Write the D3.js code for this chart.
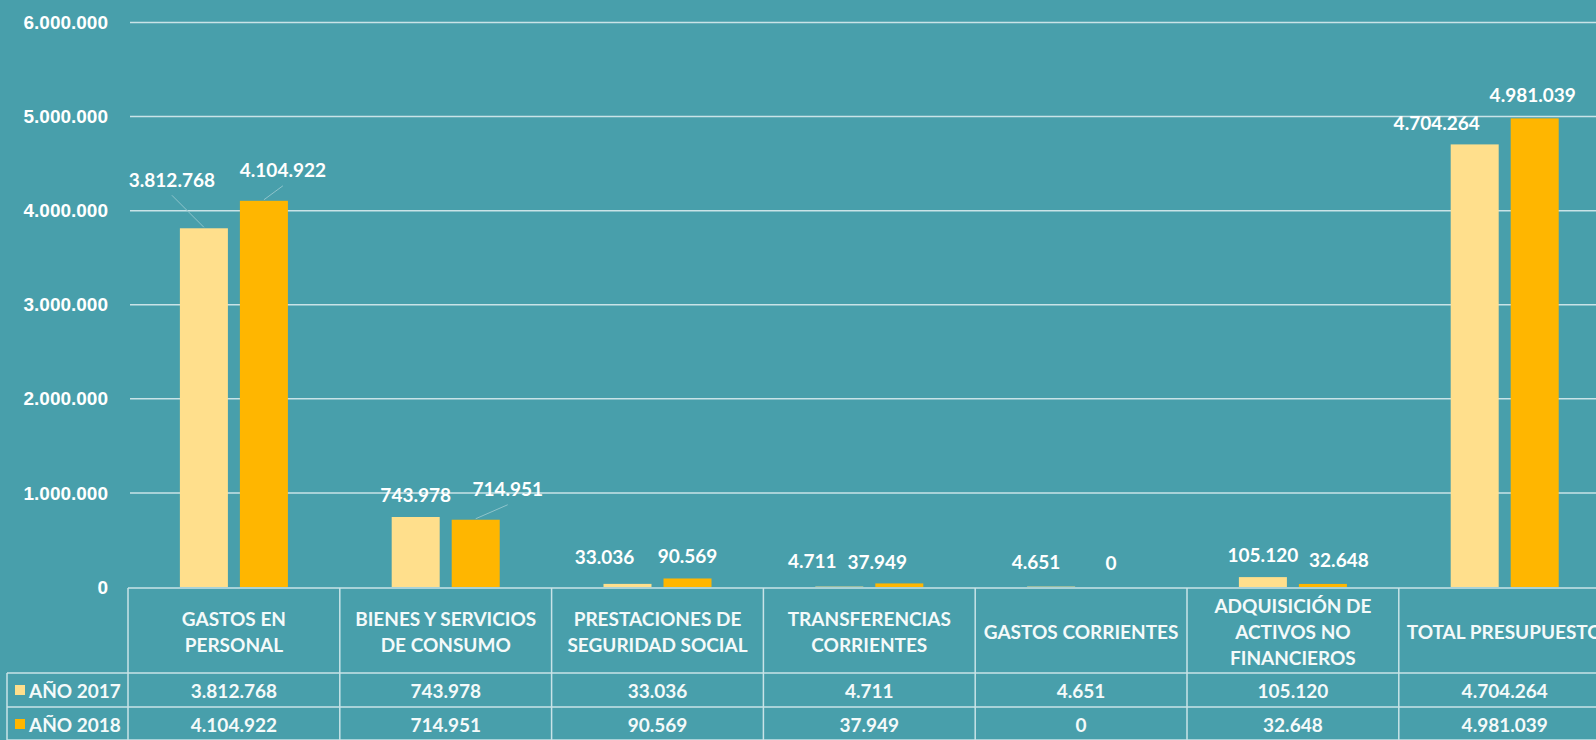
<!DOCTYPE html>
<html>
<head>
<meta charset="utf-8">
<script src="https://cdn.jsdelivr.net/npm/d3@7"></script>
<style>
  html, body { margin: 0; padding: 0; background: #489fab; overflow: hidden; }
  svg { display: block; font-family: Lato, "Open Sans", sans-serif; font-weight: bold; }
  .num { fill: #ffffff; font-size: 19px; }
  .cell { fill: #f4fafa; font-size: 19px; }
</style>
</head>
<body>
<div id="chartDIV"></div>
<script>
var WIDTH = 1596, HEIGHT = 740;
var BG = "#489fab";
var LINE = "#c9e3e7";

// data
var categories = ["GASTOS EN\nPERSONAL", "BIENES Y SERVICIOS\nDE CONSUMO", "PRESTACIONES DE\nSEGURIDAD SOCIAL",
                  "TRANSFERENCIAS\nCORRIENTES", "GASTOS CORRIENTES", "ADQUISICIÓN DE\nACTIVOS NO\nFINANCIEROS",
                  "TOTAL PRESUPUESTO"];
var seriesNames = ["AÑO 2017", "AÑO 2018"];
var values2017 = [3812768, 743978, 33036, 4711, 4651, 105120, 4704264];
var values2018 = [4104922, 714951, 90569, 37949, 0, 32648, 4981039];
var yTicks = [0, 1000000, 2000000, 3000000, 4000000, 5000000, 6000000];

var colors = ["#ffdf8c", "#ffb600"];

// labels were dragged by hand in the original, offsets from the bar top (px)
var labelNudge = [
  [[-32, -49, true], [0, -23], [-23, -27], [-27, -26], [-15, -25], [0, -23], [-38, -22]],
  [[19, -31, true], [32, -31, true], [0, -23], [-22, -22], [0, -25], [16, -24], [-2, -24]]
];

var seriesValues = [values2017, values2018];

var es = d3.formatLocale({decimal: ",", thousands: ".", grouping: [3], currency: ["", "€"]});
var fmt = es.format(",d");

var svg = d3.select("#chartDIV")
  .append("svg")
  .attr("width", WIDTH)
  .attr("height", HEIGHT);

svg.append("rect").attr("width", WIDTH).attr("height", HEIGHT).attr("fill", BG);

var TABLE_LEFT = 128, TABLE_TOP = 588, HEAD_BOTTOM = 673, ROW_H = 34;
var y = d3.scaleLinear().domain([0, 6000000]).range([587, 22.5]);
var x0 = d3.scaleBand().domain(d3.range(categories.length)).range([TABLE_LEFT, 1610.6]);
var groupW = x0.bandwidth() * 0.51;
var x1 = d3.scaleBand().domain([0, 1])
  .range([(x0.bandwidth() - groupW) / 2, (x0.bandwidth() + groupW) / 2])
  .paddingInner(0.2);

// gridlines + tick labels
var yAxis = svg.append("g")
  .attr("transform", "translate(108,0)")
  .call(d3.axisLeft(y).tickValues(yTicks).tickFormat(fmt).tickSize(0).tickPadding(0));
yAxis.select(".domain").remove();
yAxis.selectAll("text").attr("class", "num").attr("fill", null).style("font-size", "19px");

svg.selectAll(".grid")
  .data(yTicks.slice(1))
  .enter()
  .append("line")
  .attr("x1", TABLE_LEFT + 2).attr("x2", WIDTH)
  .attr("y1", function(d) { return y(d) }).attr("y2", function(d) { return y(d) })
  .attr("stroke", LINE).attr("stroke-width", 1.5);

// bars
var groups = svg.selectAll(".group")
  .data(categories)
  .enter()
  .append("g")
  .attr("transform", function(d, i) { return "translate(" + x0(i) + ",0)" });

groups.selectAll("rect")
  .data(function(d, i) { return seriesValues.map(function(s, k) { return {k: k, v: s[i]} }) })
  .enter()
  .append("rect")
  .attr("x", function(d) { return x1(d.k) })
  .attr("width", x1.bandwidth())
  .attr("y", function(d) { return y(d.v) })
  .attr("height", function(d) { return y(0) - y(d.v) })
  .attr("fill", function(d) { return colors[d.k] });

// data labels (with leader lines where the label was moved away)
groups.each(function(c, i) {
  var g = d3.select(this);
  seriesValues.forEach(function(s, k) {
    var bx = x1(k) + x1.bandwidth() / 2, by = y(s[i]);
    var n = labelNudge[k][i];
    var lx = bx + n[0], ly = by + n[1];
    if (n[2]) {
      g.append("line")
        .attr("x1", bx).attr("y1", by - 1)
        .attr("x2", lx).attr("y2", ly + 16)
        .attr("stroke", "#8fc4cb").attr("stroke-width", 1);
    }
    g.append("text")
      .attr("class", "num")
      .attr("x", lx).attr("y", ly)
      .attr("text-anchor", "middle")
      .attr("dominant-baseline", "central")
      .text(fmt(s[i]));
  });
});

// data table
var tbl = svg.append("g").attr("stroke", LINE).attr("stroke-width", 1.5);
tbl.append("line").attr("x1", TABLE_LEFT).attr("x2", WIDTH).attr("y1", TABLE_TOP).attr("y2", TABLE_TOP);
[HEAD_BOTTOM, HEAD_BOTTOM + ROW_H, HEAD_BOTTOM + 2 * ROW_H - 1].forEach(function(yy) {
  tbl.append("line").attr("x1", 7).attr("x2", WIDTH).attr("y1", yy).attr("y2", yy);
});
tbl.append("line").attr("x1", 7).attr("x2", 7).attr("y1", HEAD_BOTTOM).attr("y2", HEIGHT);
d3.range(categories.length + 1).forEach(function(i) {
  var xx = TABLE_LEFT + i * x0.bandwidth();
  tbl.append("line").attr("x1", xx).attr("x2", xx).attr("y1", TABLE_TOP).attr("y2", HEIGHT);
});

// header cells
categories.forEach(function(c, i) {
  var lines = c.split("\n");
  var cy = (TABLE_TOP + HEAD_BOTTOM) / 2 - (lines.length - 1) * 13;
  var t = svg.append("text")
    .attr("class", "cell")
    .attr("text-anchor", "middle")
    .attr("dominant-baseline", "central");
  lines.forEach(function(l, j) {
    t.append("tspan")
      .attr("x", x0(i) + x0.bandwidth() / 2)
      .attr("y", cy + j * 26)
      .text(l);
  });
});

// value rows + legend keys
seriesValues.forEach(function(s, k) {
  var cy = HEAD_BOTTOM + ROW_H * k + ROW_H / 2;
  svg.append("rect").attr("x", 15).attr("y", cy - 5).attr("width", 10).attr("height", 10).attr("fill", colors[k]);
  svg.append("text").attr("class", "cell")
    .attr("x", 29).attr("y", cy).attr("dominant-baseline", "central")
    .text(seriesNames[k]);
  s.forEach(function(v, i) {
    svg.append("text").attr("class", "cell")
      .attr("x", x0(i) + x0.bandwidth() / 2).attr("y", cy)
      .attr("text-anchor", "middle").attr("dominant-baseline", "central")
      .text(fmt(v));
  });
});
</script>
</body>
</html>
